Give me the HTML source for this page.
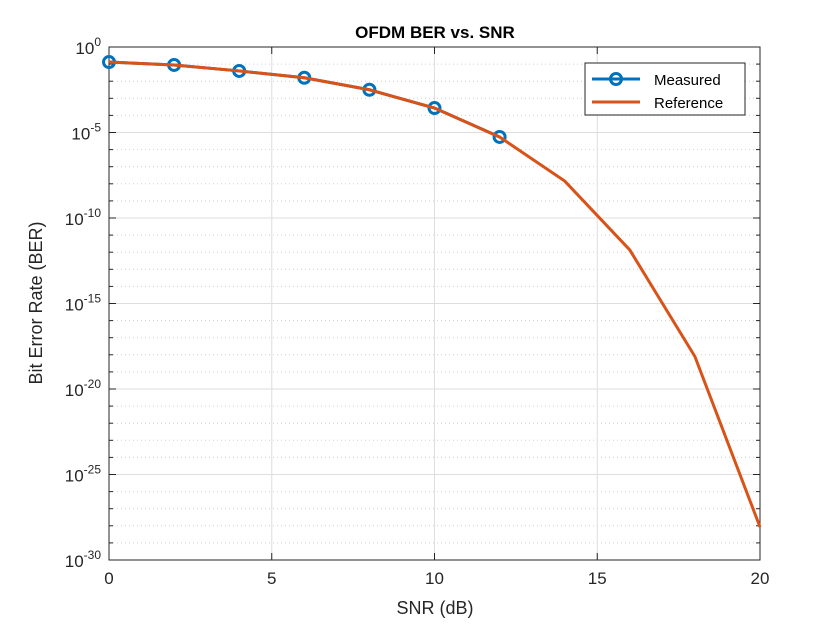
<!DOCTYPE html>
<html><head><meta charset="utf-8"><style>
body{margin:0;background:#fff;}
svg text{font-family:"Liberation Sans",sans-serif;fill:#262626;}
</style></head><body>
<svg id="chart" width="840" height="630" xmlns="http://www.w3.org/2000/svg">
<rect width="840" height="630" fill="#fff"/>
<g id="grid"></g>
<g id="axes"></g>
<g id="series"></g>
<text x="435" y="38" text-anchor="middle" font-size="17" font-weight="bold" style="fill:#000">OFDM BER vs. SNR</text>
<text x="435" y="614" text-anchor="middle" font-size="18">SNR (dB)</text>
<text transform="translate(42,303) rotate(-90)" text-anchor="middle" font-size="18">Bit Error Rate (BER)</text>
<g>
<rect x="585" y="63" width="160" height="52" fill="#fff" stroke="#262626" stroke-width="1"/>
<line x1="592" y1="79" x2="640" y2="79" stroke="#0072BD" stroke-width="3"/>
<circle cx="616" cy="79" r="5.5" fill="none" stroke="#0072BD" stroke-width="3"/>
<text x="654" y="85" font-size="15" style="fill:#000">Measured</text>
<line x1="592" y1="102" x2="640" y2="102" stroke="#D95319" stroke-width="3"/>
<text x="654" y="108" font-size="15" style="fill:#000">Reference</text>
</g>
</svg>
<script>
const snrRef=[0,2,4,6,8,10,12,14,16,18,20];
const berRefExp=[-0.88,-1.05,-1.4,-1.8,-2.5,-3.57,-5.26,-7.84,-11.87,-18.1,-28.07];
const snrMeas=[0,2,4,6,8,10,12];
const berMeasExp=[-0.88,-1.05,-1.4,-1.8,-2.5,-3.57,-5.26];
const xTicks=[0,5,10,15,20];
const yTickExp=[0,-5,-10,-15,-20,-25,-30];
const L=109,R=760,T=47,B=560;
const sx=v=>L+(v-0)/(20-0)*(R-L);
const sy=e=>T+(0-e)/30*(B-T);
const NS='http://www.w3.org/2000/svg';
function mk(tag,attrs,parent){const e=document.createElementNS(NS,tag);for(const k in attrs)e.setAttribute(k,attrs[k]);parent.appendChild(e);return e;}
const grid=document.getElementById('grid'),axes=document.getElementById('axes'),ser=document.getElementById('series');
for(let e=-1;e>-30;e--){if(e%5===0)continue;
 const l=mk('line',{x1:L,x2:R,y1:sy(e),y2:sy(e),stroke:'#d0d0d0','stroke-width':1,'stroke-dasharray':'1,3'},grid);
 
 
 mk('line',{x1:L,x2:L+4,y1:sy(e),y2:sy(e),stroke:'#262626'},axes);
 mk('line',{x1:R,x2:R-4,y1:sy(e),y2:sy(e),stroke:'#262626'},axes);
}
yTickExp.forEach(e=>{const y=sy(e);
 const l=mk('line',{x1:L,x2:R,y1:y,y2:y,stroke:'#dedede'},grid);
 
 
 mk('line',{x1:L,x2:L+7,y1:y,y2:y,stroke:'#262626'},axes);
 mk('line',{x1:R,x2:R-7,y1:y,y2:y,stroke:'#262626'},axes);
 const t=mk('text',{x:L-8,y:y+7,'text-anchor':'end','font-size':17},axes);
 
 
 t.innerHTML='10<tspan dy="-8" font-size="12">'+e+'</tspan>';
});
xTicks.forEach(v=>{const x=sx(v);
 const l=mk('line',{x1:x,x2:x,y1:T,y2:B,stroke:'#dedede'},grid);
 
 
 mk('line',{x1:x,x2:x,y1:B,y2:B-7,stroke:'#262626'},axes);
 mk('line',{x1:x,x2:x,y1:T,y2:T+7,stroke:'#262626'},axes);
 const t=mk('text',{x:x,y:B+24,'text-anchor':'middle','font-size':17},axes);
 
 
 t.textContent=v;
});
const fr=mk('rect',{x:L,y:T,width:R-L,height:B-T,fill:'none',stroke:'#262626','stroke-width':1},axes);


const mp=mk('polyline',{points:snrMeas.map((v,i)=>sx(v)+','+sy(berMeasExp[i])).join(' '),fill:'none',stroke:'#0072BD','stroke-width':3},ser);


snrMeas.forEach((v,i)=>{const c=mk('circle',{cx:sx(v),cy:sy(berMeasExp[i]),r:5.5,fill:'none',stroke:'#0072BD','stroke-width':3},ser);
 
 });
const rp=mk('polyline',{points:snrRef.map((v,i)=>sx(v)+','+sy(berRefExp[i])).join(' '),fill:'none',stroke:'#D95319','stroke-width':3},ser);


</script>
</body></html>
